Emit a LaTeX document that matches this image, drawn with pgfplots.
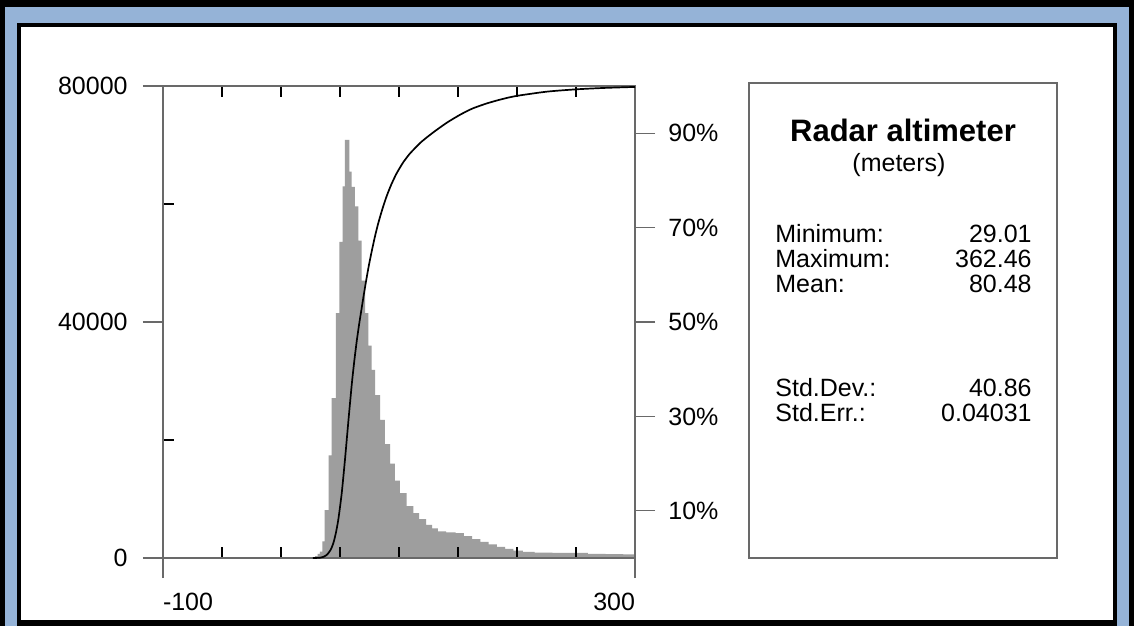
\documentclass[border=0pt]{standalone}
\usepackage{pgfplots}
\pgfplotsset{compat=1.18}
\usepackage{fontspec}
\setmainfont{Liberation Sans}
\definecolor{frameblue}{RGB}{149,179,215}
\definecolor{histgray}{RGB}{158,158,158}
\definecolor{axisgray}{RGB}{105,105,105}
\newcommand{\lbl}{\fontsize{12.5pt}{12.5pt}\selectfont}
\begin{document}
\begin{tikzpicture}[x=0.5pt,y=0.5pt]
\useasboundingbox (0,0) rectangle (1134,626);
\fill[black] (0,0) rectangle (1134,626);
\fill[frameblue] (5,0) rectangle (1129,619);
\fill[black] (17,0) rectangle (1117,603);
\fill[white] (21,6) rectangle (1113,599);

\pgfplotsset{commonax/.style={
  at={(81.5pt,34pt)}, anchor=south west,
  width=236pt, height=236pt, scale only axis,
  xmin=-100, xmax=300,
  tick label style={font=\lbl},
  scaled ticks=false,
}}

% histogram
\begin{axis}[commonax, ymin=0, ymax=80000,
  axis on top,
  axis line style={draw=axisgray, line width=0.6pt},
  xtick={-50,0,...,250}, xticklabels={}, xtick pos=both,
  ytick={20000,60000}, yticklabels={}, ytick pos=left,
  tick align=inside, major tick length=5.5pt,
  tick style={black, line width=0.8pt},
]
\addplot[ybar interval, fill=histgray, draw=none] table {
x y
29.0 300
31.0 700
33.0 1100
35.0 2800
37.0 8100
40.4 17400
43.0 27100
46.5 41500
49.4 53600
52.2 63000
54.2 70850
57.9 65500
59.9 62900
62.7 59600
65.5 53800
68.4 47000
71.2 41500
74.0 36000
76.8 31900
79.7 27600
83.9 23400
88.1 19300
92.4 16000
96.6 13100
100.8 11000
106.5 8800
112.1 7600
117.0 6600
123.0 5600
128.0 5000
133.0 4500
140.0 4350
148.0 4200
155.0 3700
162.0 3200
169.0 2750
176.0 2300
183.0 1900
190.0 1550
197.0 1250
205.0 1050
215.0 900
230.0 880
245.0 850
260.0 720
275.0 650
290.0 600
300.0 600
};
\end{axis}

% cumulative curve, right axis
\begin{axis}[commonax, ymin=0, ymax=100,
  axis line style={draw=none},
  xtick=\empty,
  ytick={10,30,50,70,90}, yticklabels={10\%,30\%,50\%,70\%,90\%},
  ytick pos=right, tick align=outside, major tick length=10pt,
  tick style={axisgray, line width=0.6pt},
  yticklabel style={inner sep=0pt, anchor=west, xshift=6.5pt},
]
\addplot[black, line width=0.85pt, smooth, tension=0.4] table {
x y
27.0 0
33.0 0.05
36.0 0.25
39.0 0.7
42.0 1.7
44.3 3.1
46.5 5.3
48.6 8.2
51.4 13.6
54.2 20.8
57.1 29.0
59.9 36.6
62.0 41.5
64.1 45.8
66.2 49.5
68.4 53.0
70.5 56.3
72.6 59.4
74.7 62.3
76.9 65.0
79.7 68.2
82.5 71.0
86.0 74.0
89.6 76.7
93.6 79.2
98.0 81.5
103.5 83.8
109.3 85.7
117.8 87.9
124.0 89.2
131.9 90.7
141.0 92.3
151.7 93.9
162.0 95.2
174.3 96.3
187.0 97.2
199.7 97.9
225.2 98.8
250.6 99.3
275.0 99.6
300.0 99.8
};
\end{axis}

% labelled outer ticks
\begin{axis}[commonax, ymin=0, ymax=80000,
  axis line style={draw=none},
  xtick={-100,300}, xticklabels={\rlap{-100},\llap{300}}, xtick pos=left,
  ytick={0,40000,80000}, yticklabels={0,40000,80000}, ytick pos=left,
  tick align=outside, major tick length=10pt,
  tick style={axisgray, line width=0.6pt},
  xticklabel style={inner sep=0pt, anchor=north, yshift=-7.5pt},
  yticklabel style={inner sep=0pt, anchor=east, xshift=-7.5pt},
]
\end{axis}

% statistics box
\draw[axisgray, line width=0.6pt] (749,68) rectangle (1057,543);
\node[anchor=base, inner sep=0pt, font=\fontsize{15.5pt}{15.5pt}\selectfont\bfseries] at (903,484) {Radar altimeter};
\node[anchor=base, inner sep=0pt, font=\lbl] at (899,454) {(meters)};
\node[anchor=base west, inner sep=0pt, font=\lbl] at (775,383) {Minimum:};
\node[anchor=base east, inner sep=0pt, font=\lbl] at (1032,383) {29.01};
\node[anchor=base west, inner sep=0pt, font=\lbl] at (775,358) {Maximum:};
\node[anchor=base east, inner sep=0pt, font=\lbl] at (1032,358) {362.46};
\node[anchor=base west, inner sep=0pt, font=\lbl] at (775,333) {Mean:};
\node[anchor=base east, inner sep=0pt, font=\lbl] at (1032,333) {80.48};
\node[anchor=base west, inner sep=0pt, font=\lbl] at (775,229) {Std.Dev.:};
\node[anchor=base east, inner sep=0pt, font=\lbl] at (1032,229) {40.86};
\node[anchor=base west, inner sep=0pt, font=\lbl] at (775,204) {Std.Err.:};
\node[anchor=base east, inner sep=0pt, font=\lbl] at (1032,204) {0.04031};
\end{tikzpicture}
\end{document}
